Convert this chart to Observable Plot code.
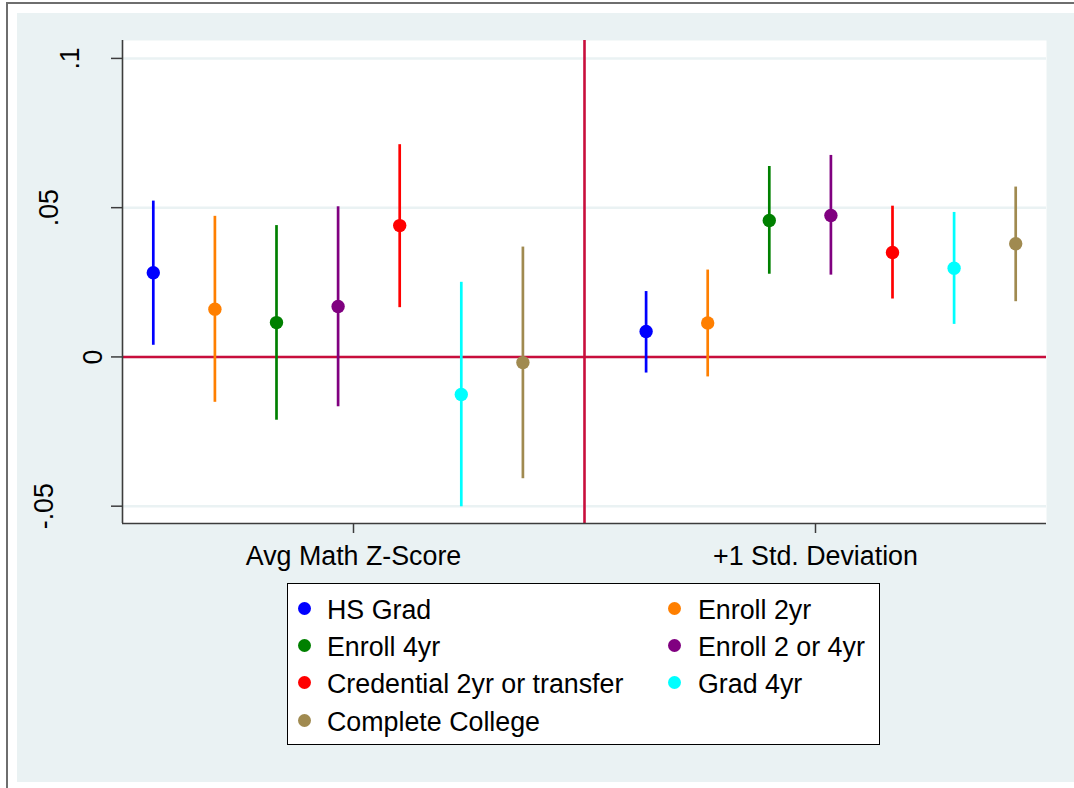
<!DOCTYPE html>
<html>
<head>
<meta charset="utf-8">
<script src="https://cdn.jsdelivr.net/npm/d3@7"></script>
<script src="https://cdn.jsdelivr.net/npm/@observablehq/plot@0.6"></script>
<style>
  html, body { margin: 0; padding: 0; background: #ffffff; }
  #page { position: relative; width: 1074px; height: 788px; overflow: hidden; background: #ffffff;
          font-family: "Liberation Sans", Arial, sans-serif; color: #000; }
  #frameTop { position: absolute; left: 6px; top: 2px; width: 1068px; height: 2px; background: #6e6e6e; }
  #frameLeft { position: absolute; left: 6px; top: 2px; width: 2px; height: 786px; background: #6e6e6e; }
  #bg { position: absolute; left: 17px; top: 13px; width: 1057px; height: 769px; background: rgb(234,242,243); }
  #chart { position: absolute; left: 0; top: 0; }
  #legend { position: absolute; left: 287px; top: 583px; width: 591px; height: 160px;
            border: 1px solid #000; background: #fff; }
  .entry { position: absolute; font-size: 26.8px; line-height: 37px; white-space: nowrap; }
  .swatch { position: absolute; width: 13px; height: 13px; border-radius: 50%; }
</style>
</head>
<body>
<div id="page">
  <div id="frameTop"></div>
  <div id="frameLeft"></div>
  <div id="bg"></div>
  <div id="chart"></div>
  <div id="legend"></div>
</div>
<script>
// ---- data ----
const groups = ["Avg Math Z-Score", "+1 Std. Deviation"];
const series = ["HS Grad", "Enroll 2yr", "Enroll 4yr", "Enroll 2 or 4yr",
                "Credential 2yr or transfer", "Grad 4yr", "Complete College"];
const colors = ["#0000ff", "#ff7f00", "#008000", "#800080", "#ff0000", "#00ffff", "#a08a50"];

const estAvg = [0.0282, 0.0160, 0.0115, 0.0169, 0.0440, -0.0126, -0.0019];
const loAvg  = [0.0039, -0.0152, -0.0212, -0.0167, 0.0165, -0.0502, -0.0408];
const hiAvg  = [0.0522, 0.0471, 0.0440, 0.0503, 0.0711, 0.0250, 0.0368];

const estSD = [0.0085, 0.0114, 0.0457, 0.0474, 0.0350, 0.0297, 0.0379];
const loSD  = [-0.0054, -0.0067, 0.0277, 0.0274, 0.0194, 0.0109, 0.0185];
const hiSD  = [0.0219, 0.0291, 0.0638, 0.0675, 0.0505, 0.0484, 0.0569];

const yTicks = [-0.05, 0, 0.05, 0.1];
const yTickLabels = ["-.05", "0", ".05", ".1"];

// label padding (style): the source staggers its rotated y labels
const yLabelPadding = [59, 10, 54, 33];

// ---- table built from the arrays ----
const estimates = [estAvg, estSD], lows = [loAvg, loSD], highs = [hiAvg, hiSD];
const nSlots = 2 * series.length + 1; // one empty slot between the groups
const rows = [];
groups.forEach((g, gi) => {
  series.forEach((s, si) => {
    const slot = gi * (series.length + 1) + si;
    rows.push({
      group: g, series: s,
      x: 0.5 + (slot + 0.5) * (groups.length / nSlots),
      est: estimates[gi][si], lo: lows[gi][si], hi: highs[gi][si]
    });
  });
});

const crimson = "#c80e3c";
const gridColor = "rgb(234,242,243)";
const axisColor = "#3c3c3c";
const yDomain = [-0.0558, 0.1060];
const xDomain = [0.5, 2.5];

const yAxes = yTicks.map((t, i) => Plot.axisY([t], {
  tickSize: 11, tickPadding: yLabelPadding[i], tickRotate: -90, stroke: axisColor, strokeWidth: 1.5,
  fill: "#000", fontSize: 26.8, label: null, tickFormat: () => yTickLabels[i]
}));

const chart = Plot.plot({
  width: 1074,
  height: 580,
  marginLeft: 122,
  marginRight: 28,
  marginTop: 40,
  marginBottom: 57,
  x: {domain: xDomain},
  y: {domain: yDomain},
  color: {domain: series, range: colors},
  style: {background: "transparent", fontFamily: "'Liberation Sans', Arial, sans-serif",
          fontSize: "26.8px", color: "#000", overflow: "visible"},
  marks: [
    Plot.frame({fill: "#ffffff", stroke: null}),
    Plot.ruleY(yTicks, {stroke: gridColor, strokeWidth: 2.5}),
    Plot.ruleY([0], {stroke: crimson, strokeWidth: 2.6}),
    Plot.ruleX([1.5], {stroke: crimson, strokeWidth: 2.6}),
    Plot.ruleX([xDomain[0]], {stroke: axisColor, strokeWidth: 1.6}),
    Plot.ruleY([yDomain[0]], {stroke: axisColor, strokeWidth: 1.6}),
    ...yAxes,
    Plot.axisX([1, 2], {
      tickSize: 10, tickPadding: 12, stroke: axisColor, strokeWidth: 1.5,
      fill: "#000", fontSize: 26.8, label: null, tickFormat: d => groups[d - 1]
    }),
    Plot.ruleX(rows, {x: "x", y1: "lo", y2: "hi", stroke: "series", strokeWidth: 2.7}),
    Plot.dot(rows, {x: "x", y: "est", fill: "series", r: 6.7, stroke: null})
  ]
});
document.getElementById("chart").appendChild(chart);

// ---- legend (two columns, row-major) ----
const legend = document.getElementById("legend");
series.forEach((s, i) => {
  const col = i % 2, row = Math.floor(i / 2);
  const e = document.createElement("div");
  e.className = "entry";
  e.style.left = (col === 0 ? 39 : 410) + "px";
  e.style.top = (8 + row * 37.2) + "px";
  e.textContent = s;
  legend.appendChild(e);
  const sw = document.createElement("div");
  sw.className = "swatch";
  sw.style.background = colors[i];
  sw.style.left = (col === 0 ? 10 : 380) + "px";
  sw.style.top = (8 + row * 37.2 + 10) + "px";
  legend.appendChild(sw);
});
</script>
</body>
</html>
